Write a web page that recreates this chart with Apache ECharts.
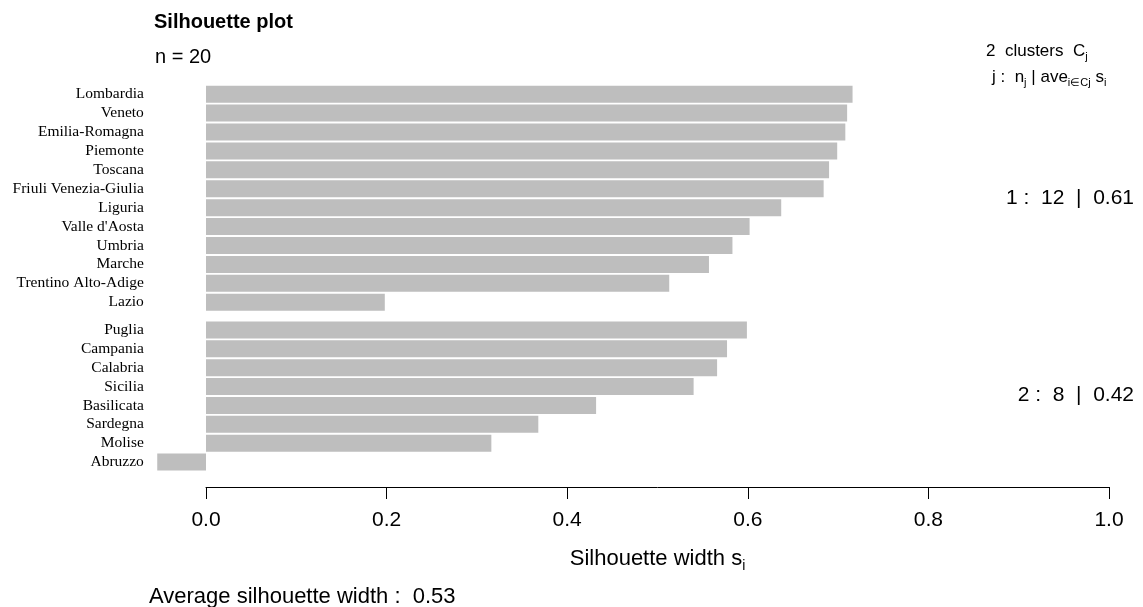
<!DOCTYPE html>
<html>
<head>
<meta charset="utf-8">
<script src="https://cdn.jsdelivr.net/npm/echarts@6/dist/echarts.min.js"></script>
<style>
html,body{margin:0;padding:0;background:#fff;}
#chart{width:1143px;height:607px;}
</style>
</head>
<body>
<div id="chart"></div>
<script>
// Cluster 1 members and silhouette widths
const cluster1Names = ['Lombardia','Veneto','Emilia-Romagna','Piemonte','Toscana','Friuli Venezia-Giulia','Liguria',"Valle d'Aosta",'Umbria','Marche','Trentino Alto-Adige','Lazio'];
const cluster1Values = [0.716,0.710,0.708,0.699,0.690,0.684,0.637,0.602,0.583,0.557,0.513,0.198];
// Cluster 2 members and silhouette widths
const cluster2Names = ['Puglia','Campania','Calabria','Sicilia','Basilicata','Sardegna','Molise','Abruzzo'];
const cluster2Values = [0.599,0.577,0.566,0.540,0.432,0.368,0.316,-0.054];
// Axis ticks
const xTicks = [0.0,0.2,0.4,0.6,0.8,1.0];
// Summary texts
const clusterSummaries = ['1 :  12  |  0.61','2 :  8  |  0.42'];
const nText = 'n = 20';
const avgText = 'Average silhouette width :  0.53';

const SANS = 'Liberation Sans, Arial, sans-serif';
const SERIF = 'Liberation Serif, Times New Roman, serif';
const barColor = '#bebebe';

const chart = echarts.init(document.getElementById('chart'), null, {renderer:'canvas'});

const gridLeft = 151.82, gridRight = 34;
const xMin = -0.06, xMax = 1.0;

function catAxis(gridIndex, names){
  return {
    type:'category', gridIndex, data:names, inverse:true,
    axisLine:{show:false}, axisTick:{show:false}, splitLine:{show:false},
    axisLabel:{fontFamily:SERIF, fontSize:15.5, color:'#000', margin:8, interval:0, hideOverlap:false}
  };
}
function hiddenX(gridIndex){
  return {type:'value', gridIndex, min:xMin, max:xMax, show:false, splitLine:{show:false}};
}

const option = {
  backgroundColor:'#fff',
  animation:false,
  grid:[
    {left:gridLeft, right:gridRight, top:84.7, height:227, containLabel:false},
    {left:gridLeft, right:gridRight, top:320.5, height:151, containLabel:false},
    {left:206, right:gridRight, top:486, height:1, containLabel:false}
  ],
  xAxis:[
    hiddenX(0),
    hiddenX(1),
    {
      type:'value', gridIndex:2, min:xTicks[0], max:xTicks[xTicks.length-1], interval:0.2,
      axisLine:{show:true, lineStyle:{color:'#000', width:1}},
      axisTick:{show:true, length:12, lineStyle:{color:'#000', width:1}},
      splitLine:{show:false},
      axisLabel:{fontFamily:SANS, fontSize:21, color:'#000', margin:23,
        formatter:v=>Number(v).toFixed(1)},
      name:'{a|Silhouette width s}{b|i}',
      nameLocation:'middle', nameGap:58,
      nameTextStyle:{
        rich:{
          a:{fontFamily:SANS, fontSize:22, color:'#000', lineHeight:28},
          b:{fontFamily:SANS, fontSize:14, color:'#000', lineHeight:14, verticalAlign:'bottom'}
        }
      }
    }
  ],
  yAxis:[
    catAxis(0, cluster1Names),
    catAxis(1, cluster2Names),
    {type:'value', gridIndex:2, show:false}
  ],
  series:[
    {type:'bar', xAxisIndex:0, yAxisIndex:0, data:cluster1Values, barCategoryGap:'10%',
      itemStyle:{color:barColor}, silent:true},
    {type:'bar', xAxisIndex:1, yAxisIndex:1, data:cluster2Values, barCategoryGap:'10%',
      itemStyle:{color:barColor}, silent:true}
  ],
  graphic:[
    {type:'text', x:154, y:22, style:{text:'Silhouette plot', fontFamily:SANS, fontSize:20, fontWeight:'bold', fill:'#000', align:'left', verticalAlign:'middle'}},
    {type:'text', x:155, y:57, style:{text:nText, fontFamily:SANS, fontSize:20, fill:'#000', align:'left', verticalAlign:'middle'}},
    {type:'text', x:986, y:51, style:{
      text:'{m|2  clusters  C}{s|j}', align:'left', verticalAlign:'middle',
      rich:{
        m:{fontFamily:SANS, fontSize:17, fill:'#000', color:'#000', lineHeight:22},
        s:{fontFamily:SANS, fontSize:11, fill:'#000', color:'#000', lineHeight:11, verticalAlign:'bottom'}
      }}},
    {type:'text', x:992, y:77, style:{
      text:'{m|j :  n}{s|j}{m| | ave}{s|i∈Cj}{m| s}{s|i}', align:'left', verticalAlign:'middle',
      rich:{
        m:{fontFamily:SANS, fontSize:17, fill:'#000', color:'#000', lineHeight:22},
        s:{fontFamily:SANS, fontSize:11, fill:'#000', color:'#000', lineHeight:11, verticalAlign:'bottom'}
      }}},
    {type:'text', x:1134, y:198, style:{text:clusterSummaries[0], fontFamily:SANS, fontSize:21, fill:'#000', align:'right', verticalAlign:'middle'}},
    {type:'text', x:1134, y:395, style:{text:clusterSummaries[1], fontFamily:SANS, fontSize:21, fill:'#000', align:'right', verticalAlign:'middle'}},
    {type:'text', x:149, y:597, style:{text:avgText, fontFamily:SANS, fontSize:22, fill:'#000', align:'left', verticalAlign:'middle'}}
  ]
};
chart.setOption(option);
</script>
</body>
</html>
